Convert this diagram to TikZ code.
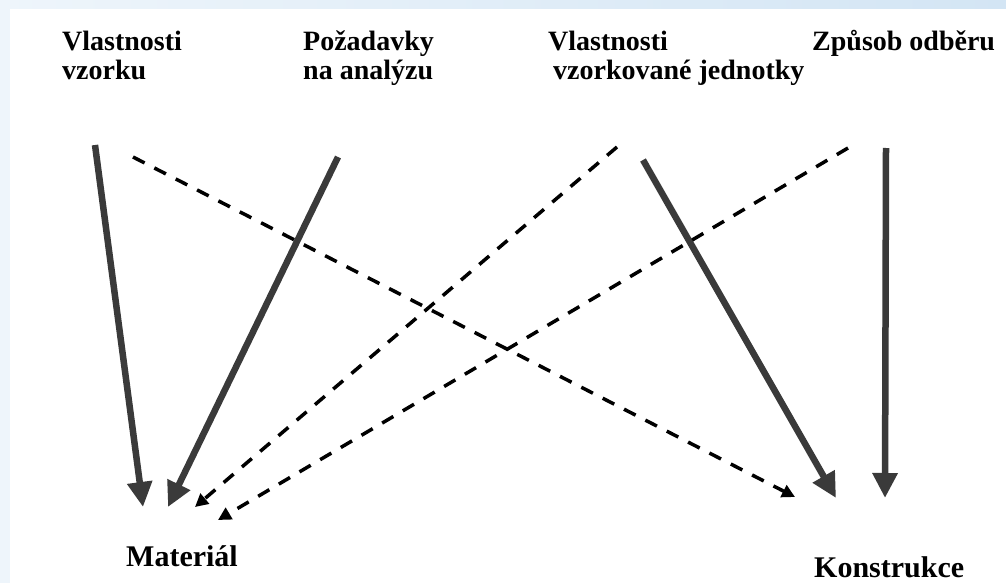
\documentclass[tikz,border=0pt]{standalone}
\usepackage{fontspec}
\setmainfont{Liberation Serif}
\usetikzlibrary{arrows.meta}
\definecolor{slide}{HTML}{EEF5FB}
\definecolor{band}{HTML}{D3E5F4}
\definecolor{ink}{HTML}{3A3A3A}
\begin{document}
\begin{tikzpicture}[x=1pt,y=-1pt,
  lbl/.style={font=\bfseries\fontsize{28}{29}\selectfont, anchor=base west, inner sep=0pt, align=left},
  big/.style={lbl, font=\bfseries\fontsize{30}{32}\selectfont},
  heavy/.style={line width=6.5pt, draw=ink, -{Triangle[width=24pt,length=25pt,fill=ink]}},
  light/.style={line width=3.5pt, draw=black, dash pattern=on 13pt off 11pt, -{Triangle[width=13pt,length=13pt]}}]
% slide background
\useasboundingbox (0,0) rectangle (1006,583);
\fill[slide] (0,0) rectangle (1006,583);
\shade[left color=slide, right color=band] (0,0) rectangle (1006,9);
\fill[white] (10,9) rectangle (1006,583);

% labels (base anchor sits on the last line)
\node[lbl] (vv) at (62,80) {Vlastnosti\\vzorku};
\node[lbl] (pa) at (303,80) {Požadavky\\na analýzu};
\node[lbl] (vj) at (548,80) {Vlastnosti\\\hspace*{5pt}vzorkované jednotky};
\node[lbl] (zo) at (812,51) {Způsob odběru};
\node[big] (ma) at (126,566) {Materiál};
\node[big] (ko) at (814,577) {Konstrukce};

% arrow ends
\coordinate (s1) at (95,145);  \coordinate (t1) at (143,507);
\coordinate (s2) at (338,157); \coordinate (t2) at (168,507);
\coordinate (s3) at (133,157); \coordinate (t3) at (795,497);
\coordinate (s4) at (617,147); \coordinate (t4) at (195,507);
\coordinate (s5) at (848,148); \coordinate (t5) at (218,520);
\coordinate (s6) at (643,160); \coordinate (t6) at (836,498);
\coordinate (s7) at (886,148); \coordinate (t7) at (885,498);

% connectors
\draw[heavy] (s1) -- (t1);
\draw[heavy] (s2) -- (t2);
\draw[heavy] (s6) -- (t6);
\draw[heavy] (s7) -- (t7);
\draw[light] (s3) -- (t3);
\draw[light] (s4) -- (t4);
\draw[light] (s5) -- (t5);
\end{tikzpicture}
\end{document}
